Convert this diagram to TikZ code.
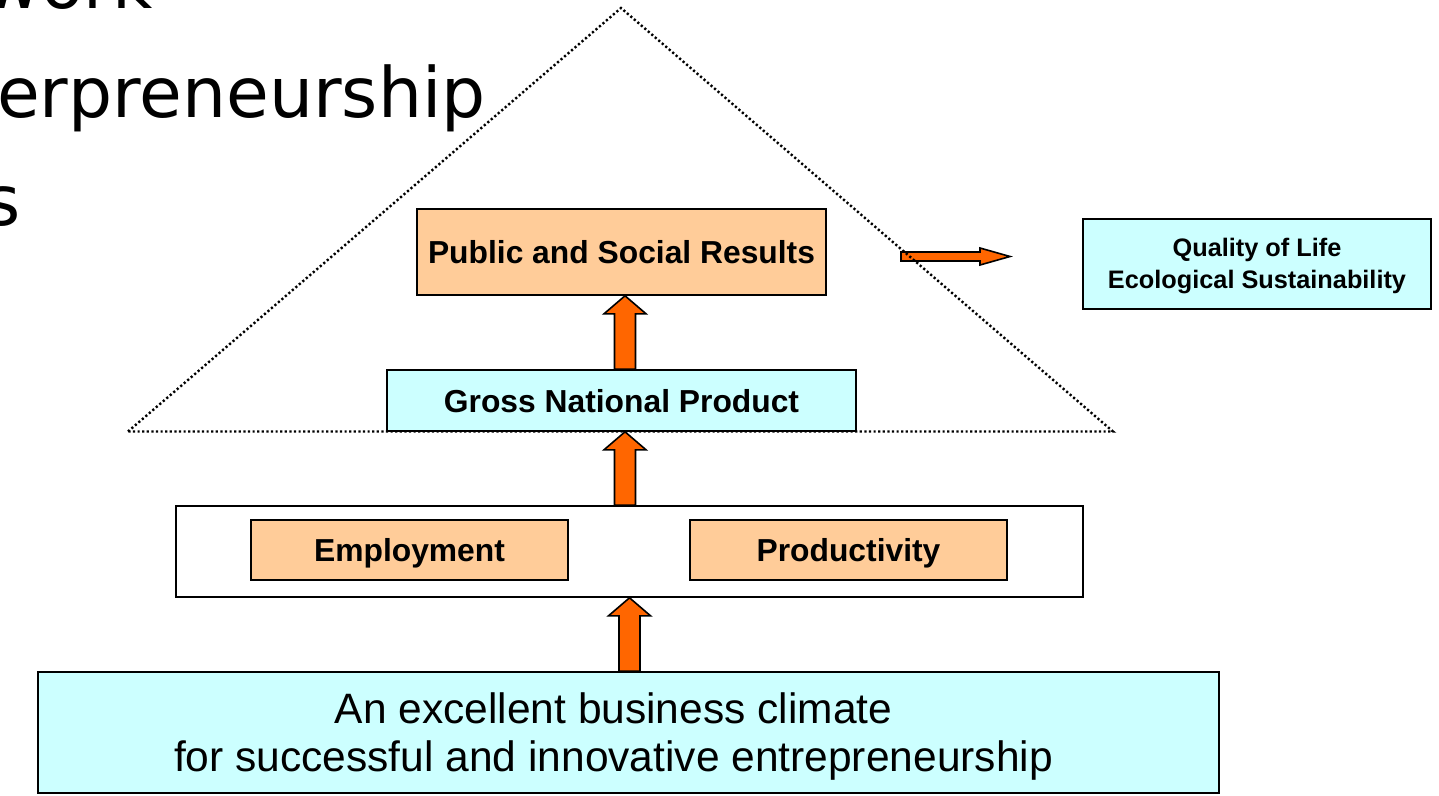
\documentclass[tikz,border=0pt]{standalone}
\usepackage{fontspec}
\setmainfont{Liberation Sans}
\newfontfamily\titlefont{DejaVu Sans}
\usetikzlibrary{calc}
\definecolor{boxorange}{HTML}{FFCC99}
\definecolor{boxcyan}{HTML}{CCFFFF}
\definecolor{arroworange}{HTML}{FF6600}
\begin{document}
\begin{tikzpicture}[x=1pt,y=-1pt,
  box/.style={draw=black, line width=1.6pt, rectangle, inner sep=0pt},
  boldlabel/.style={font=\fontsize{31.8}{36}\selectfont\bfseries, text height=23pt, text depth=0pt},
  titleline/.style={font=\titlefont\fontsize{69.5}{80}\selectfont, anchor=base west, inner sep=0pt},
  blockup/.style={draw=black, line width=1.6pt, fill=arroworange, line join=miter,
    to path={($(\tikztostart)+(-10.5,0)$) -- ($(\tikztotarget)+(-10.5,18)$) -- ($(\tikztotarget)+(-21,18)$) -- (\tikztotarget) -- ($(\tikztotarget)+(21,18)$) -- ($(\tikztotarget)+(10.5,18)$) -- ($(\tikztostart)+(10.5,0)$) -- cycle}},
  triline/.style={draw=black, line width=2.4pt, dash pattern=on 2.2pt off 2.4pt}
]
\useasboundingbox (0,0) rectangle (1439,795);
\clip (0,0) rectangle (1439,795);

% title fragments
\node[titleline] (t1) at (-16,9) {work};
\node[titleline] (t2) at (-3,117) {erpreneurship};
\node[titleline] (t3) at (-16,225) {s};

% right arrow
\coordinate (ra1) at (901,256.5);
\coordinate (ra2) at (1010,256.5);
\draw[draw=black, line width=1.6pt, fill=arroworange, line join=miter]
  ($(ra1)+(0,-4.5)$) -- ($(ra2)+(-30,-4.5)$) -- ($(ra2)+(-30,-8.5)$) -- (ra2)
  -- ($(ra2)+(-30,8.5)$) -- ($(ra2)+(-30,4.5)$) -- ($(ra1)+(0,4.5)$) -- cycle;

% dotted triangle
\coordinate (apex) at (621,8);
\coordinate (bl) at (128,431.5);
\coordinate (br) at (1113,431.5);
\draw[triline] (bl) -- (apex) -- (br) -- cycle;

% boxes
\node[box, fill=boxorange, minimum width=409pt, minimum height=86pt, boldlabel] (psr) at (621.5,252) {Public and Social Results};
\node[box, fill=boxcyan, minimum width=469pt, minimum height=61pt, boldlabel] (gnp) at (621.5,400.5) {Gross National Product};
\node[box, fill=boxcyan, minimum width=348pt, minimum height=90pt] (qol) at (1257,264) {};
\node[align=center, inner sep=0pt, font=\fontsize{25.3}{32}\selectfont\bfseries] (qoltxt) at ($(qol.center)+(0,2.5)$) {Quality of Life\\Ecological Sustainability};
\node[box, fill=white, minimum width=907pt, minimum height=91pt] (outer) at (629.5,551.5) {};
\node[box, fill=boxorange, minimum width=317pt, minimum height=60pt, boldlabel] (emp) at (409.5,550) {Employment};
\node[box, fill=boxorange, minimum width=317pt, minimum height=60pt, boldlabel] (prod) at (848.5,550) {Productivity};
\node[box, fill=boxcyan, minimum width=1181pt, minimum height=121pt] (climate) at (628.5,732.5) {};
\node[align=center, inner sep=0pt, font=\fontsize{42.5}{48}\selectfont] (climtxt) at ($(climate.center)+(-15,4)$)
  {An excellent business climate\\for successful and innovative entrepreneurship};

% block arrows
\draw[blockup] ($(gnp.north)+(3.5,0)$) to ($(psr.south)+(3.5,0)$);
\draw[blockup] ($(outer.north)+(-4.5,0)$) to ($(gnp.south)+(3.5,0)$);
\draw[blockup] ($(climate.north)+(1,0)$) to ($(outer.south)+(0,0)$);
\end{tikzpicture}
\end{document}
